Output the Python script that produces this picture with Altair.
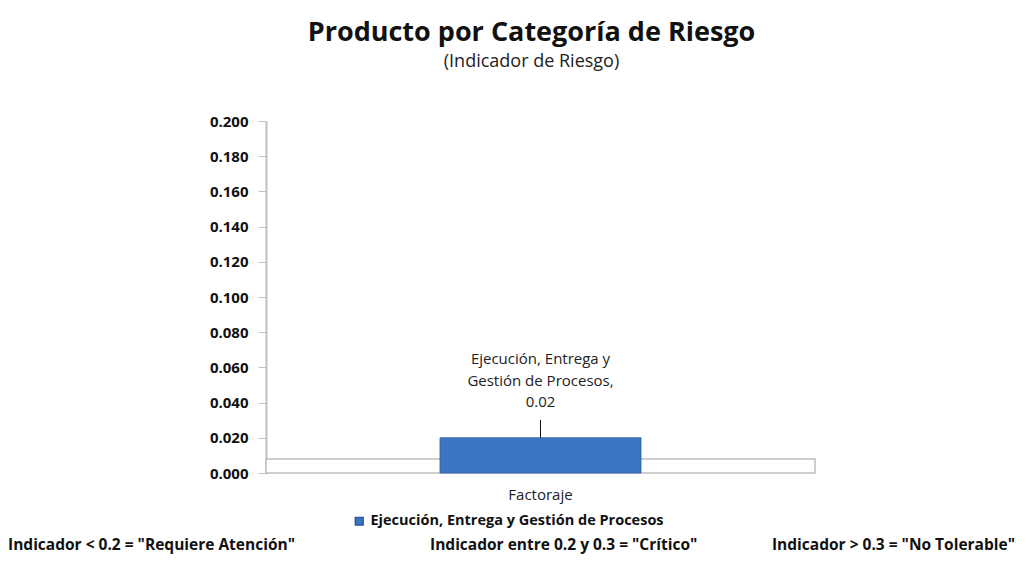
import altair as alt
import pandas as pd

categories = ["Factoraje"]
series_names = ["Ejecución, Entrega y Gestión de Procesos"]
values = [0.02]
data_label = "Ejecución, Entrega y\nGestión de Procesos,\n0.02"
notes = ['Indicador < 0.2  = "Requiere Atención"',
         'Indicador entre 0.2 y 0.3 = "Crítico"',
         'Indicador > 0.3 = "No Tolerable"']
y_ticks = [0.0, 0.02, 0.04, 0.06, 0.08, 0.10, 0.12, 0.14, 0.16, 0.18, 0.20]

FONT = "Open Sans"
W, H = 549, 352

df = pd.DataFrame({"cat": categories, "serie": series_names, "val": values,
                   "lab": [data_label]})

xscale = alt.Scale(domain=categories)
yscale = alt.Scale(domain=[0, 0.2])
yaxis = alt.Axis(title=None, values=y_ticks, format=".3f", labelFont=FONT,
                 labelFontSize=15, labelFontWeight="bold", labelColor="#111111",
                 labelOverlap=False, grid=False, domainColor="#BFBFBF", domainWidth=2,
                 tickColor="#BFBFBF", tickSize=8, labelPadding=10)
xaxis = alt.Axis(title=None, labelAngle=0, labelFont=FONT, labelFontSize=15,
                 labelColor="#222222", ticks=False, domain=False, labelPadding=14)

xenc = alt.X("cat:N", scale=xscale, axis=xaxis)
yenc = alt.Y("val:Q", scale=yscale, axis=yaxis)

base = alt.Chart(df)

floor = base.mark_rect(fill="white", stroke="#BFBFBF", strokeWidth=1.5).encode(
    x=alt.value(0), x2=alt.value(W),
    y=alt.Y(datum=0, scale=yscale, axis=yaxis), y2=alt.datum(0.008)
)

bars = base.mark_bar(
    size=201,
    color=alt.Gradient(
        gradient="linear", x1=0, x2=0, y1=0, y2=1,
        stops=[alt.GradientStop(color="#4A8AD8", offset=0),
               alt.GradientStop(color="#2F64AE", offset=1)]
    ),
    stroke="#2C5A9A", strokeWidth=0.8
).encode(
    x=xenc,
    y=yenc,
    color=alt.Color("serie:N", scale=alt.Scale(range=["#3A76C4"]),
                    legend=alt.Legend(title=None, orient="none", legendX=86, legendY=393,
                                      symbolType="square", symbolSize=60, labelLimit=0,
                                      labelFont=FONT, labelFontSize=14.5,
                                      labelFontWeight="bold", labelColor="#111111"))
)

leader = base.mark_rule(color="#111111", strokeWidth=1).encode(
    x=xenc, y=yenc, y2=alt.value(299)
)

labels = base.mark_text(font=FONT, fontSize=15, color="#222222", baseline="middle",
                        lineBreak="\n", lineHeight=21.5).encode(
    x=xenc,
    y=alt.value(238),
    text="lab:N"
)

note_df = pd.DataFrame({"t": notes})
note_style = dict(font=FONT, fontSize=15.5, fontWeight="bold", color="#111111",
                  baseline="middle")
note_left = alt.Chart(note_df.iloc[[0]]).mark_text(align="left", **note_style).encode(
    x=alt.value(-258), y=alt.value(424), text="t:N")
note_mid = alt.Chart(note_df.iloc[[1]]).mark_text(align="left", **note_style).encode(
    x=alt.value(164), y=alt.value(424), text="t:N")
note_right = alt.Chart(note_df.iloc[[2]]).mark_text(align="right", **note_style).encode(
    x=alt.value(749), y=alt.value(424), text="t:N")

chart = alt.layer(floor, bars, leader, labels, note_left, note_mid, note_right).properties(
    width=W, height=H,
    autosize="none",
    padding={"left": 258, "top": 113, "right": 203, "bottom": 82},
    title=alt.TitleParams(
        text="Producto por Categoría de Riesgo",
        subtitle="(Indicador de Riesgo)",
        font=FONT, fontSize=27, fontWeight="bold", color="#111111",
        subtitleFont=FONT, subtitleFontSize=18, subtitleColor="#222222",
        anchor="middle", offset=42, subtitlePadding=6, dx=-9
    )
).configure_view(stroke=None)

chart.save("out.html", embed_options={"renderer": "svg", "actions": False})
